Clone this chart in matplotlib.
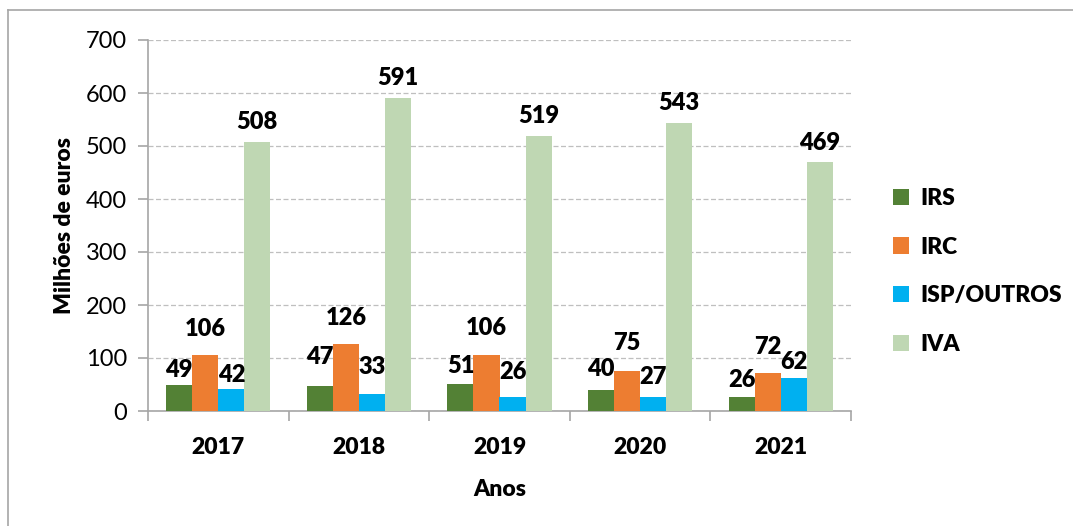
import numpy as np
import matplotlib
matplotlib.use("Agg")
import matplotlib.pyplot as plt
from matplotlib.lines import Line2D

# dados do gráfico
anos = ["2017", "2018", "2019", "2020", "2021"]
series = ["IRS", "IRC", "ISP/OUTROS", "IVA"]
irs = [49, 47, 51, 40, 26]
irc = [106, 126, 106, 75, 72]
isp = [42, 33, 26, 27, 62]
iva = [508, 591, 519, 543, 469]
cores = ["#538135", "#ED7D31", "#00B0F0", "#BFD7B3"]

# deslocamento vertical dos rótulos (pixels acima da barra)
desloc = [
    [15, 29, 18, 21, 17],
    [26, 26, 27, 28, 26],
    [14, 27, 25, 20, 16],
    [20, 20, 20, 20, 19],
]

plt.rcParams["font.family"] = ["Lato", "DejaVu Sans"]

fig = plt.figure(figsize=(10.73, 5.26), dpi=100)
ax = fig.add_axes([148 / 1073, 115 / 526, 703 / 1073, 371 / 526])

# moldura exterior
fig.add_artist(Line2D([8 / 1073, 8 / 1073], [0, 1 - 10 / 526], transform=fig.transFigure, color="#A6A6A6", lw=1.2))
fig.add_artist(Line2D([8 / 1073, 1], [1 - 10 / 526, 1 - 10 / 526], transform=fig.transFigure, color="#A6A6A6", lw=1.2))

x = np.arange(len(anos))
w = 0.185
valores = [irs, irc, isp, iva]
for i, (nome, vals, cor) in enumerate(zip(series, valores, cores)):
    pos = x + (i - 1.5) * w
    ax.bar(pos, vals, w, color=cor, label=nome, zorder=3)
    for j, (px, v) in enumerate(zip(pos, vals)):
        ax.annotate(str(v), (px, v), xytext=(0, desloc[i][j] * 0.72), textcoords="offset points",
                    ha="center", va="center", fontsize=17, fontweight="heavy", zorder=4)

ax.set_xlim(-0.5, len(anos) - 0.5)
ax.set_ylim(0, 700)
ax.set_yticks(range(0, 701, 100))
ax.yaxis.grid(True, linestyle=(0, (4, 2)), color="#BFBFBF", lw=0.9, zorder=0)
ax.set_xticks(x)
ax.set_xticklabels(anos, fontsize=16.5, fontweight="heavy")
ax.set_xticks(np.arange(-0.5, len(anos)), minor=True)
ax.tick_params(axis="x", which="major", length=0, pad=19)
ax.tick_params(axis="x", which="minor", length=7, color="#A6A6A6", width=1.2)
ax.tick_params(axis="y", length=7, color="#A6A6A6", width=1.2, labelsize=17, pad=8)

for s in ["top", "right"]:
    ax.spines[s].set_visible(False)
for s in ["left", "bottom"]:
    ax.spines[s].set_color("#A6A6A6")
    ax.spines[s].set_linewidth(1.2)

ax.set_ylabel("Milhões de euros", fontsize=16.5, fontweight="heavy", labelpad=8)
ax.set_xlabel("Anos", fontsize=16.5, fontweight="heavy", labelpad=15)

leg = ax.legend(loc="center left", bbox_to_anchor=(1.03, 0.376), frameon=False,
                prop={"size": 16.5, "weight": "heavy"}, handlelength=0.7, handleheight=0.7,
                handletextpad=0.5, labelspacing=1.22)

fig.savefig("out.png", dpi=100, facecolor="white")
